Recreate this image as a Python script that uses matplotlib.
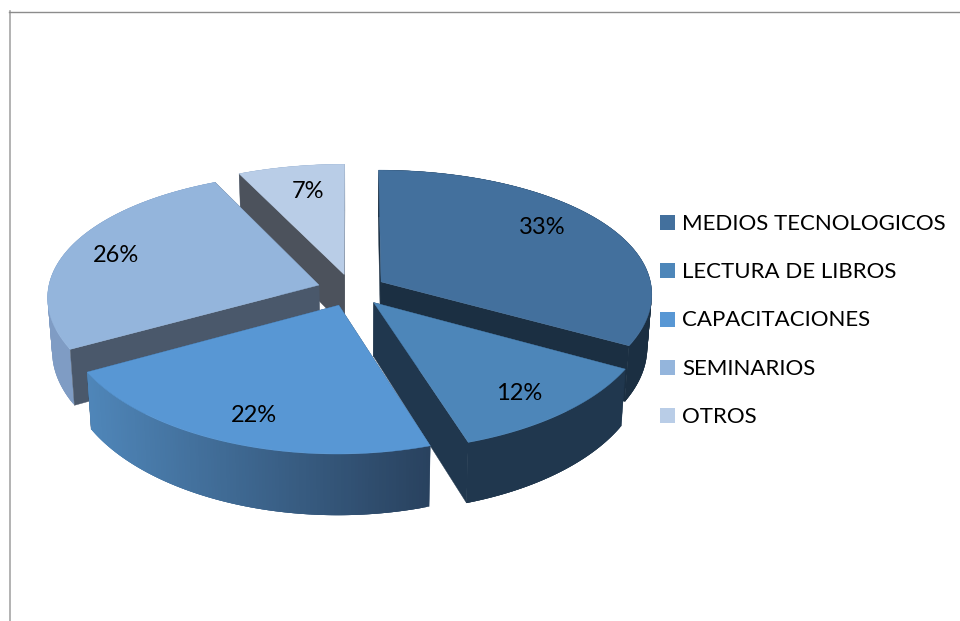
"""Exploded 3D pie chart, drawn by hand since matplotlib has no such pie."""
import numpy as np
import matplotlib
matplotlib.use('Agg')
import matplotlib.pyplot as plt
from matplotlib.colors import to_rgb
from matplotlib.path import Path
from matplotlib.patches import Polygon, Rectangle

plt.rcParams['font.family'] = ['Lato', 'DejaVu Sans']

categories = ['MEDIOS TECNOLOGICOS', 'LECTURA DE LIBROS', 'CAPACITACIONES',
              'SEMINARIOS', 'OTROS']
values = [33, 12, 22, 26, 7]

top_colors = ['#43709d', '#4d86b9', '#5897d4', '#94b5dc', '#b9cde7']
wall_colors = ['#1b2f42', '#20374e', '#2e4a69', '#4a586b', '#4c525c']
# outer wall gradient, left to right
rim_colors = [('#1b2f42', '#1b2f42'), ('#20374e', '#20374e'),
              ('#4f86b9', '#29425f'), ('#7f9cc4', '#7f9cc4'),
              ('#8fa8c8', '#8fa8c8')]
label_pos = [(542, 228), (519, 394), (254, 416), (116, 256), (308, 191)]

CX, CY = 351.6, 290
RX, RY = 271, 127
PERSP_X, PERSP_Y = 0.09, 0.12
EXPLODE = 0.127
DEPTH = 53
BOTTOM_SHRINK = 0.985


def project(u, v):
    return CX + RX * u / (1 - PERSP_X * v), CY + RY * v / (1 - PERSP_Y * v)


def drop(x, y, v):
    # same point on the underside of the pie
    return CX + (x - CX) * BOTTOM_SHRINK, y + DEPTH / (1 - PERSP_Y * v)


def draw_slice(ax, start, end, top, wall, rim):
    mid = (start + end) / 2
    ou, ov = EXPLODE * np.sin(mid), -EXPLODE * np.cos(mid)
    t = np.linspace(start, end, 120)
    u, v = ou + np.sin(t), ov - np.cos(t)
    x, y = project(u, v)
    xb, yb = drop(x, y, v)
    ax0, ay0 = project(ou, ov)
    bx0, by0 = drop(ax0, ay0, ov)
    top_pts = [(ax0, ay0)] + list(zip(x, y))
    top_path = Path(top_pts + [(ax0, ay0)])

    # walls that the top hides go below the outer wall, the others above it
    hidden, visible = [], []
    for wx, wy, wbx, wby in [(x[0], y[0], xb[0], yb[0]), (x[-1], y[-1], xb[-1], yb[-1])]:
        probe = ((ax0 + wx) / 2, (ay0 + wy) / 2 + 4)
        poly = [(ax0, ay0), (wx, wy), (wbx, wby), (bx0, by0)]
        (hidden if top_path.contains_point(probe) else visible).append(poly)

    for poly in hidden:
        ax.add_patch(Polygon(poly, closed=True, facecolor=wall, edgecolor=wall, lw=0.3))

    # outer wall, overlapping strips so the gradient shows no seams
    c0, c1 = np.array(to_rgb(rim[0])), np.array(to_rgb(rim[1]))
    xmin, xmax = x.min(), x.max()
    for i in range(len(t) - 1):
        j = min(i + 3, len(t) - 1)
        f = (x[i] - xmin) / (xmax - xmin)
        col = tuple(c0 + (c1 - c0) * f)
        ax.add_patch(Polygon([(x[i], y[i]), (x[j], y[j]), (xb[j], yb[j]), (xb[i], yb[i])],
                             closed=True, facecolor=col, edgecolor='none'))

    for poly in visible:
        ax.add_patch(Polygon(poly, closed=True, facecolor=wall, edgecolor=wall, lw=0.3))

    ax.add_patch(Polygon(top_pts, closed=True, facecolor=top, edgecolor=top, lw=0.3))


fig = plt.figure(figsize=(9.6, 6.21), dpi=100)
ax = fig.add_axes([0, 0, 1, 1])
ax.set_xlim(0, 960)
ax.set_ylim(621, 0)
ax.axis('off')

# frame of the pasted chart, only top and left are in the crop
ax.plot([9.5, 9.5], [11, 621], color='#a6a6a6', lw=1.2)
ax.plot([9, 960], [11.5, 11.5], color='#8c8c8c', lw=1)

bounds = np.cumsum([0] + values) / sum(values) * 2 * np.pi
order = [4, 0, 3, 1, 2]
for i in order:
    draw_slice(ax, bounds[i], bounds[i + 1], top_colors[i], wall_colors[i], rim_colors[i])

for i, val in enumerate(values):
    ax.text(label_pos[i][0], label_pos[i][1], f'{val}%', fontsize=17,
            ha='center', va='center', color='black', zorder=10)

for i, name in enumerate(categories):
    yc = 222.5 + i * 48.25
    ax.add_patch(Rectangle((660, yc - 7.5), 15, 15, facecolor=top_colors[i], edgecolor='none'))
    ax.text(682, yc + 1.5, name, fontsize=16, ha='left', va='center', color='black')

fig.savefig('out.png', dpi=100)
